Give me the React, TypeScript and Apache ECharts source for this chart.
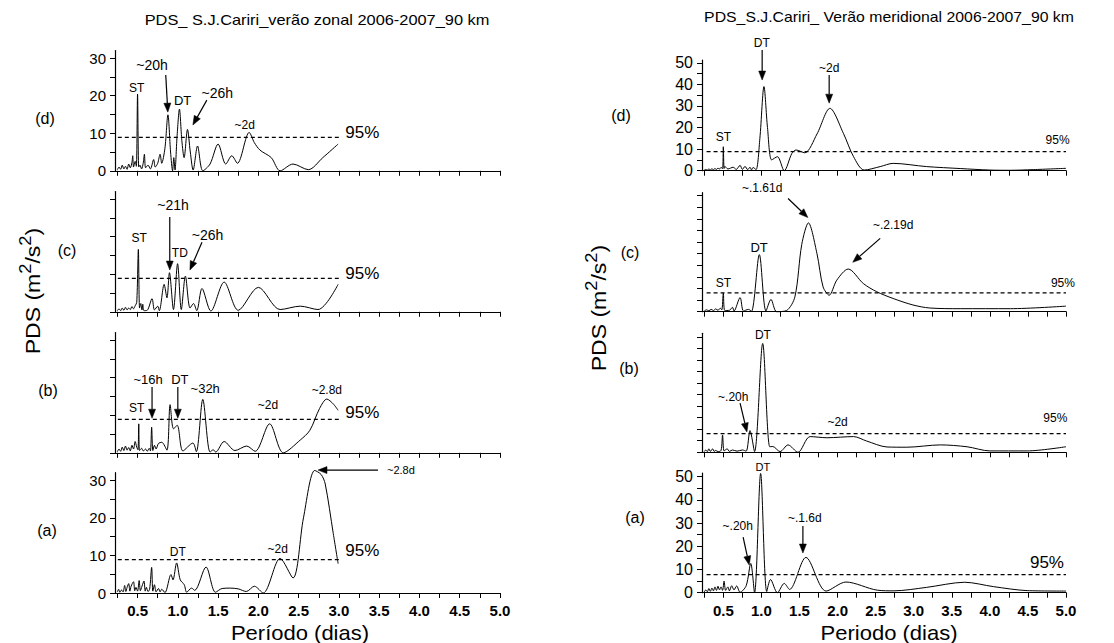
import React, { useEffect, useRef } from "react";
import * as echarts from "echarts";

const FONT = "'Liberation Sans', Arial, Helvetica, sans-serif";

// ---------- DATA (period in days, PDS in m^2/s^2) ----------
const zonalD: number[][] = [
  [0.25, 0.3], [0.27, 1.0], [0.29, 0.4], [0.31, 1.5], [0.33, 0.5], [0.35, 1.2], [0.37, 0.4], [0.39, 1.8],
  [0.41, 0.8], [0.43, 2.2], [0.44, 4.0], [0.45, 1.0], [0.47, 2.5], [0.485, 1.2], [0.5, 20.4], [0.515, 1.0],
  [0.53, 1.5], [0.55, 0.5], [0.57, 2.0], [0.585, 4.4], [0.6, 0.8], [0.63, 1.5], [0.66, 0.5], [0.7, 3.0],
  [0.72, 1.0], [0.75, 2.0], [0.78, 4.4], [0.8, 2.0], [0.84, 6.0], [0.877, 14.9], [0.91, 5.0], [0.935, 0.0],
  [0.95, 3.5], [0.965, 0.2], [0.99, 9.0], [1.02, 16.4], [1.05, 8.0], [1.078, 3.5], [1.12, 11.0], [1.155, 5.0],
  [1.19, 0.2], [1.245, 6.6], [1.31, 0.0], [1.4, 1.8], [1.5, 7.1], [1.595, 1.8], [1.67, 4.0], [1.74, 2.0],
  [1.886, 10.2], [1.95, 7.5], [2.02, 5.5], [2.16, 3.5], [2.27, 0.0], [2.43, 1.8], [2.62, 0.3], [2.8, 3.5],
  [2.99, 7.1],
];
const zonalC: number[][] = [
  [0.25, 0.3], [0.27, 0.8], [0.29, 0.3], [0.31, 1.0], [0.33, 0.4], [0.35, 1.2], [0.37, 0.5], [0.39, 1.0],
  [0.41, 0.6], [0.43, 1.4], [0.45, 0.8], [0.47, 1.6], [0.49, 2.5], [0.51, 16.6], [0.525, 1.0], [0.54, 2.2],
  [0.555, 0.5], [0.565, 2.0], [0.58, 0.3], [0.62, 0.4], [0.68, 3.5], [0.71, 0.5], [0.75, 1.5], [0.77, 0.3],
  [0.83, 7.3], [0.865, 3.7], [0.896, 10.4], [0.946, 0.6], [0.997, 12.8], [1.043, 0.6], [1.094, 9.5],
  [1.152, 1.0], [1.195, 2.2], [1.235, 0.3], [1.3, 6.2], [1.41, 0.2], [1.575, 7.9], [1.75, 0.4], [2.0, 6.5],
  [2.27, 0.6], [2.52, 1.5], [2.74, 0.6], [2.99, 7.3],
];
const zonalB: number[][] = [
  [0.25, 0.3], [0.27, 1.0], [0.29, 0.4], [0.31, 1.5], [0.33, 0.6], [0.35, 1.8], [0.37, 0.7], [0.39, 1.4],
  [0.41, 0.5], [0.43, 2.0], [0.45, 1.0], [0.47, 3.0], [0.49, 1.5], [0.505, 0.8], [0.515, 7.7], [0.525, 0.6],
  [0.55, 1.2], [0.57, 0.5], [0.6, 1.0], [0.62, 0.4], [0.645, 1.2], [0.66, 0.5], [0.675, 6.8], [0.69, 0.6],
  [0.71, 2.0], [0.73, 1.0], [0.76, 2.5], [0.8, 2.8], [0.865, 0.7], [0.904, 12.8], [0.946, 6.4], [0.993, 7.3],
  [1.063, 0.5], [1.187, 2.6], [1.23, 0.3], [1.31, 14.2], [1.4, 0.2], [1.44, 0.8], [1.47, 0.2], [1.575, 3.0],
  [1.71, 0.6], [1.855, 1.8], [1.96, 0.4], [2.14, 7.7], [2.31, 0.0], [2.52, 3.4], [2.64, 6.0], [2.76, 11.8],
  [2.85, 14.3], [2.93, 13.0], [2.99, 11.3],
];
const zonalA: number[][] = [
  [0.25, 0.3], [0.265, 1.0], [0.28, 0.2], [0.3, 0.8], [0.32, 0.3], [0.34, 2.0], [0.355, 0.4], [0.37, 1.5],
  [0.39, 2.5], [0.405, 0.5], [0.42, 1.8], [0.45, 3.0], [0.465, 0.6], [0.48, 1.5], [0.5, 0.5], [0.52, 3.3],
  [0.535, 0.6], [0.555, 1.8], [0.58, 3.2], [0.595, 0.5], [0.61, 1.5], [0.63, 0.4], [0.65, 1.0], [0.675, 6.8],
  [0.69, 0.5], [0.71, 2.2], [0.73, 0.3], [0.76, 1.2], [0.78, 0.3], [0.8, 1.0], [0.84, 0.1], [0.915, 4.9],
  [0.94, 3.5], [0.985, 8.0], [1.03, 3.5], [1.08, 2.2], [1.11, 0.2], [1.17, 1.3], [1.21, 0.7], [1.35, 6.9],
  [1.467, 0.2], [1.55, 1.2], [1.65, 1.3], [1.75, 1.1], [1.85, 0.4], [1.95, 1.8], [2.06, 0.0], [2.27, 9.2],
  [2.43, 4.0], [2.56, 20.0], [2.7, 32.6], [2.78, 31.5], [2.83, 29.0], [2.93, 15.8], [2.99, 7.8],
];

const meridD: number[][] = [
  [0.25, 0.3], [0.27, 0.6], [0.29, 0.3], [0.31, 0.8], [0.33, 0.4], [0.35, 0.9], [0.37, 0.5], [0.39, 1.0],
  [0.41, 0.6], [0.43, 1.2], [0.45, 0.8], [0.47, 1.5], [0.49, 1.0], [0.5, 11.1], [0.51, 1.0], [0.52, 2.0],
  [0.56, 0.8], [0.63, 1.6], [0.67, 0.6], [0.72, 2.5], [0.75, 0.6], [0.785, 2.0], [0.82, 0.5], [0.85, 1.6],
  [0.87, 0.4], [0.89, 1.5], [0.93, 0.5], [0.98, 15.0], [1.034, 39.0], [1.08, 20.0], [1.135, 5.0], [1.21, 6.5],
  [1.3, 0.0], [1.4, 8.0], [1.455, 9.6], [1.57, 8.3], [1.73, 17.0], [1.9, 28.9], [2.077, 17.3], [2.21, 6.5],
  [2.35, 0.3], [2.56, 1.9], [2.73, 3.4], [3.17, 1.9], [3.61, 1.0], [4.0, 0.3], [4.27, 0.2], [4.57, 0.5],
  [5.0, 1.1],
];
const meridC: number[][] = [
  [0.25, 0.3], [0.28, 0.8], [0.31, 0.4], [0.34, 1.0], [0.37, 0.5], [0.4, 1.2], [0.43, 0.6], [0.46, 1.5],
  [0.48, 0.8], [0.5, 8.1], [0.52, 0.5], [0.58, 0.6], [0.62, 1.9], [0.64, 0.3], [0.72, 6.1], [0.765, 0.3],
  [0.83, 1.0], [0.87, 0.2], [0.973, 24.6], [1.06, 0.3], [1.126, 5.3], [1.2, 0.0], [1.33, 0.5], [1.44, 6.4],
  [1.53, 29.0], [1.617, 38.3], [1.73, 25.0], [1.81, 10.7], [1.89, 7.1], [1.99, 13.6], [2.14, 18.4],
  [2.34, 12.1], [2.515, 8.6], [2.73, 5.7], [2.99, 2.9], [3.21, 1.6], [3.61, 1.3], [4.27, 1.3], [5.0, 2.4],
];
const meridB: number[][] = [
  [0.25, 0.3], [0.27, 1.0], [0.29, 0.3], [0.31, 1.5], [0.33, 0.4], [0.36, 1.5], [0.38, 0.4], [0.4, 0.8],
  [0.43, 0.3], [0.47, 0.8], [0.49, 7.5], [0.51, 0.6], [0.55, 1.5], [0.58, 0.4], [0.62, 1.0], [0.68, 0.5],
  [0.75, 1.0], [0.8, 0.5], [0.85, 9.4], [0.91, 0.3], [1.017, 47.1], [1.11, 2.4], [1.15, 2.5], [1.245, 0.3],
  [1.35, 3.2], [1.48, 0.0], [1.64, 6.8], [1.86, 6.3], [2.21, 6.8], [2.38, 4.9], [2.65, 2.3], [2.91, 2.2],
  [3.35, 3.2], [3.7, 2.4], [4.0, 0.6], [4.49, 0.6], [5.0, 2.4],
];
const meridA: number[][] = [
  [0.25, 0.3], [0.27, 1.2], [0.29, 0.4], [0.31, 1.8], [0.33, 0.6], [0.35, 2.0], [0.37, 0.8], [0.39, 2.5],
  [0.41, 1.0], [0.43, 2.8], [0.45, 1.2], [0.47, 2.5], [0.49, 1.0], [0.51, 5.0], [0.53, 1.0], [0.56, 2.5],
  [0.58, 0.8], [0.61, 3.0], [0.64, 1.2], [0.675, 2.9], [0.72, 0.2], [0.8, 3.0], [0.86, 12.6], [0.91, 0.0],
  [0.99, 51.4], [1.07, 0.5], [1.12, 5.7], [1.21, 0.0], [1.3, 4.0], [1.37, 1.4], [1.585, 15.2], [1.85, 0.7],
  [2.11, 4.6], [2.52, 1.1], [2.74, 0.8], [3.17, 2.3], [3.67, 4.5], [4.05, 2.6], [4.49, 0.9], [5.0, 0.7],
];

// 95% significance levels (d, c, b, a)
const level95Zonal = [8.9, 8.9, 8.9, 8.9];
const level95Merid = [8.8, 8.1, 8.1, 7.8];

const xTickValues = [0.25, 0.5, 0.75, 1.0, 1.25, 1.5, 1.75, 2.0, 2.25, 2.5, 2.75, 3.0, 3.25, 3.5, 3.75, 4.0, 4.25, 4.5, 4.75, 5.0];
const xLabelValues = [0.5, 1.0, 1.5, 2.0, 2.5, 3.0, 3.5, 4.0, 4.5, 5.0];
const yTicksZonal = [0, 5, 10, 15, 20, 25, 30];
const yLabelsZonal = [0, 10, 20, 30];
const yTicksMerid = [0, 5, 10, 15, 20, 25, 30, 35, 40, 45, 50];
const yLabelsMerid = [0, 10, 20, 30, 40, 50];

type Ann = { t: string; x: number; y: number; fs: number; left?: boolean; ax?: number[] };

const annZonalD: Ann[] = [
  { t: "ST", x: 0.49, y: 22, fs: 12 },
  { t: "~20h", x: 0.68, y: 28.1, fs: 14, ax: [0.85, 25.5, 0.876, 15.6] },
  { t: "DT", x: 1.06, y: 18.8, fs: 13 },
  { t: "~26h", x: 1.49, y: 20.7, fs: 14, ax: [1.36, 18.8, 1.187, 12.2] },
  { t: "~2d", x: 1.83, y: 12.2, fs: 12 },
  { t: "95%", x: 3.08, y: 10.3, fs: 17, left: true },
];
const annZonalC: Ann[] = [
  { t: "ST", x: 0.52, y: 19.6, fs: 12 },
  { t: "~21h", x: 0.94, y: 28.4, fs: 14, ax: [0.9, 25.2, 0.9, 11.1] },
  { t: "TD", x: 1.025, y: 15.6, fs: 12 },
  { t: "~26h", x: 1.37, y: 20.4, fs: 14, ax: [1.3, 18.5, 1.15, 11.1] },
  { t: "95%", x: 3.08, y: 10.3, fs: 17, left: true },
];
const annZonalB: Ann[] = [
  { t: "ST", x: 0.49, y: 11.9, fs: 12 },
  { t: "~16h", x: 0.63, y: 19.6, fs: 13, ax: [0.68, 17.5, 0.68, 9.2] },
  { t: "DT", x: 1.025, y: 19.6, fs: 13, ax: [1.0, 17.5, 1.0, 9.2] },
  { t: "~32h", x: 1.34, y: 17.2, fs: 13 },
  { t: "~2d", x: 2.12, y: 12.7, fs: 12 },
  { t: "~2.8d", x: 2.85, y: 16.7, fs: 12 },
  { t: "95%", x: 3.08, y: 10.6, fs: 17, left: true },
];
const annZonalA: Ann[] = [
  { t: "DT", x: 1.0, y: 10.9, fs: 12 },
  { t: "~2d", x: 2.24, y: 11.7, fs: 12 },
  { t: "~2.8d", x: 3.77, y: 32.7, fs: 11, ax: [3.485, 32.7, 2.74, 32.7] },
  { t: "95%", x: 3.08, y: 11.4, fs: 17, left: true },
];
const annMeridD: Ann[] = [
  { t: "DT", x: 1.005, y: 59, fs: 12, ax: [1.01, 55.9, 1.01, 42] },
  { t: "~2d", x: 1.89, y: 47.5, fs: 12, ax: [1.89, 44.3, 1.89, 31.3] },
  { t: "ST", x: 0.5, y: 15.6, fs: 12 },
  { t: "95%", x: 4.89, y: 14.2, fs: 12 },
];
const annMeridC: Ann[] = [
  { t: "~.1.61d", x: 1.01, y: 53.5, fs: 12, ax: [1.35, 48.8, 1.61, 40.6] },
  { t: "~.2.19d", x: 2.73, y: 37.2, fs: 12, ax: [2.56, 31.6, 2.2, 21.3] },
  { t: "DT", x: 0.97, y: 27.8, fs: 13 },
  { t: "ST", x: 0.5, y: 12.3, fs: 12 },
  { t: "95%", x: 4.96, y: 12.3, fs: 12 },
];
const annMeridB: Ann[] = [
  { t: "DT", x: 1.02, y: 50.8, fs: 12 },
  { t: "~.20h", x: 0.63, y: 23.9, fs: 12, ax: [0.72, 21.3, 0.81, 8.8] },
  { t: "~2d", x: 2.0, y: 13.1, fs: 12 },
  { t: "95%", x: 4.86, y: 14.8, fs: 12 },
];
const annMeridA: Ann[] = [
  { t: "DT", x: 1.02, y: 54.2, fs: 11 },
  { t: "~.20h", x: 0.69, y: 28.7, fs: 12, ax: [0.76, 24, 0.84, 11.9] },
  { t: "~.1.6d", x: 1.57, y: 32.2, fs: 12, ax: [1.545, 28.7, 1.545, 17.1] },
  { t: "95%", x: 4.75, y: 13.2, fs: 17 },
];

// ---------- LAYOUT ----------
type Panel = {
  data: number[][]; level: number; levelStart: number; levelEnd: number; ann: Ann[];
  left: number; top: number; width: number; height: number; yMax: number;
  yTicks: number[]; yLabels: number[] | null; yFont: number; bottom: boolean;
  tag: string; tagX: number; tagY: number;
};

const Z = { left: 115, width: 385 };
const M = { left: 702, width: 364 };

const PANELS: Panel[] = [
  { data: zonalD, level: level95Zonal[0], levelStart: 0.255, levelEnd: 3.0, ann: annZonalD, ...Z, top: 50.5, height: 120.3, yMax: 32, yTicks: yTicksZonal, yLabels: yLabelsZonal, yFont: 15, bottom: false, tag: "(d)", tagX: 45, tagY: 118 },
  { data: zonalC, level: level95Zonal[1], levelStart: 0.255, levelEnd: 3.0, ann: annZonalC, ...Z, top: 191.5, height: 120.3, yMax: 32, yTicks: yTicksZonal, yLabels: null, yFont: 15, bottom: false, tag: "(c)", tagX: 67, tagY: 250 },
  { data: zonalB, level: level95Zonal[2], levelStart: 0.255, levelEnd: 3.0, ann: annZonalB, ...Z, top: 332.5, height: 120.3, yMax: 32, yTicks: yTicksZonal, yLabels: null, yFont: 15, bottom: false, tag: "(b)", tagX: 48, tagY: 390 },
  { data: zonalA, level: level95Zonal[3], levelStart: 0.255, levelEnd: 3.0, ann: annZonalA, ...Z, top: 472.7, height: 120.3, yMax: 32, yTicks: yTicksZonal, yLabels: yLabelsZonal, yFont: 15, bottom: true, tag: "(a)", tagX: 47, tagY: 530 },
  { data: meridD, level: level95Merid[0], levelStart: 0.28, levelEnd: 5.0, ann: annMeridD, ...M, top: 60, height: 110.7, yMax: 51.3, yTicks: yTicksMerid, yLabels: yLabelsMerid, yFont: 16, bottom: false, tag: "(d)", tagX: 621, tagY: 115 },
  { data: meridC, level: level95Merid[1], levelStart: 0.28, levelEnd: 5.0, ann: annMeridC, ...M, top: 192.7, height: 119, yMax: 51.3, yTicks: yTicksMerid, yLabels: null, yFont: 16, bottom: false, tag: "(c)", tagX: 630, tagY: 252 },
  { data: meridB, level: level95Merid[2], levelStart: 0.28, levelEnd: 5.0, ann: annMeridB, ...M, top: 333.3, height: 119, yMax: 51.5, yTicks: yTicksMerid, yLabels: null, yFont: 16, bottom: false, tag: "(b)", tagX: 629, tagY: 368 },
  { data: meridA, level: level95Merid[3], levelStart: 0.28, levelEnd: 5.0, ann: annMeridA, ...M, top: 473, height: 119.7, yMax: 51.6, yTicks: yTicksMerid, yLabels: yLabelsMerid, yFont: 16, bottom: true, tag: "(a)", tagX: 635, tagY: 517 },
];

const X_MIN = 0.22;
const X_MAX = 5.0;

function txt(text: string, x: number, y: number, fontSize: number, extra: any = {}, el: any = {}) {
  return {
    type: "text",
    x,
    y,
    silent: true,
    ...el,
    style: {
      text,
      fontSize,
      fontFamily: FONT,
      fill: "#000",
      align: "center",
      verticalAlign: "middle",
      textAlign: "center",
      textVerticalAlign: "middle",
      ...extra,
    },
  };
}

export default function App() {
  const ref = useRef<HTMLDivElement>(null);

  useEffect(() => {
    if (!ref.current) return;
    const chart = echarts.init(ref.current, null, { renderer: "svg" });

    const grid: any[] = [];
    const xAxis: any[] = [];
    const yAxis: any[] = [];
    const series: any[] = [];

    PANELS.forEach((p, i) => {
      grid.push({ left: p.left, top: p.top, width: p.width, height: p.height, containLabel: false });
      xAxis.push({
        type: "value",
        gridIndex: i,
        min: X_MIN,
        max: X_MAX,
        axisLine: { show: true, onZero: false, lineStyle: { color: "#000", width: 1.2 } },
        axisTick: { show: true, customValues: xTickValues, length: 5, inside: false, lineStyle: { color: "#000", width: 1 } },
        axisLabel: {
          show: p.bottom,
          customValues: xLabelValues,
          formatter: (v: number) => v.toFixed(1),
          fontSize: 15,
          fontWeight: "bold",
          fontFamily: FONT,
          color: "#000",
          margin: 10,
        },
        splitLine: { show: false },
      });
      yAxis.push({
        type: "value",
        gridIndex: i,
        min: 0,
        max: p.yMax,
        axisLine: { show: true, onZero: false, lineStyle: { color: "#000", width: 1.2 } },
        axisTick: { show: true, customValues: p.yTicks, length: 5, inside: false, lineStyle: { color: "#000", width: 1 } },
        axisLabel: {
          show: !!p.yLabels,
          customValues: p.yLabels || [],
          fontSize: p.yFont,
          fontFamily: FONT,
          color: "#000",
          margin: 9,
        },
        splitLine: { show: false },
      });
      series.push({
        type: "line",
        xAxisIndex: i,
        yAxisIndex: i,
        data: p.data,
        showSymbol: false,
        smooth: 0.3,
        clip: false,
        silent: true,
        lineStyle: { color: "#000", width: 1 },
      });
      series.push({
        type: "line",
        xAxisIndex: i,
        yAxisIndex: i,
        data: [[p.levelStart, p.level], [p.levelEnd, p.level]],
        showSymbol: false,
        silent: true,
        lineStyle: { color: "#000", width: 1.3, type: [4, 3] },
      });
    });

    chart.setOption({ animation: false, grid, xAxis, yAxis, series });

    const graphics: any[] = [];
    graphics.push(txt("PDS_ S.J.Cariri_verão zonal 2006-2007_90 km", 317, 20, 14, {}, { scaleX: 1.17 }));
    graphics.push(txt("PDS_S.J.Cariri_ Verão meridional 2006-2007_90 km", 889, 17, 14, {}, { scaleX: 1.13 }));
    graphics.push(txt("Período (dias)", 300, 633, 20, {}, { scaleX: 1.1 }));
    graphics.push(txt("Periodo (dias)", 889, 633, 20, {}, { scaleX: 1.1 }));

    const yTitle = (x: number, y: number) => ({
      type: "text",
      x,
      y,
      rotation: Math.PI / 2,
      scaleX: 1.15,
      silent: true,
      style: {
        text: "{a|PDS (m}{s|2}{a|/s}{s|2}{a|)}",
        fontFamily: FONT,
        fill: "#000",
        align: "center",
        verticalAlign: "middle",
        rich: {
          a: { fontSize: 20, fontFamily: FONT, fill: "#000", color: "#000", lineHeight: 26, verticalAlign: "bottom" },
          s: { fontSize: 16, fontFamily: FONT, fill: "#000", color: "#000", lineHeight: 26, verticalAlign: "top", padding: [0, 0, 8, 0] },
        },
      },
    });
    graphics.push(yTitle(30, 291));
    graphics.push(yTitle(596, 308));

    PANELS.forEach((p, i) => {
      graphics.push(txt(p.tag, p.tagX, p.tagY, 16));
      p.ann.forEach((a) => {
        const [px, py] = chart.convertToPixel({ gridIndex: i } as any, [a.x, a.y]) as number[];
        graphics.push(
          txt(a.t, px, py, a.fs, a.left ? { align: "left", textAlign: "left" } : {})
        );
        if (a.ax) {
          const [x1, y1] = chart.convertToPixel({ gridIndex: i } as any, [a.ax[0], a.ax[1]]) as number[];
          const [x2, y2] = chart.convertToPixel({ gridIndex: i } as any, [a.ax[2], a.ax[3]]) as number[];
          const dx = x2 - x1;
          const dy = y2 - y1;
          const len = Math.sqrt(dx * dx + dy * dy) || 1;
          const ux = dx / len;
          const uy = dy / len;
          const hl = 9;
          const hw = 3.5;
          const bx = x2 - ux * hl;
          const by = y2 - uy * hl;
          graphics.push({
            type: "line",
            silent: true,
            shape: { x1, y1, x2: bx, y2: by },
            style: { stroke: "#000", lineWidth: 1.2 },
          });
          graphics.push({
            type: "polygon",
            silent: true,
            shape: {
              points: [
                [x2, y2],
                [bx - uy * hw, by + ux * hw],
                [bx + uy * hw, by - ux * hw],
              ],
            },
            style: { fill: "#000", stroke: "#000", lineWidth: 0.5 },
          });
        }
      });
    });

    chart.setOption({ graphic: { elements: graphics } });

    return () => {
      chart.dispose();
    };
  }, []);

  return (
    <div
      ref={ref}
      style={{ position: "fixed", left: 0, top: 0, width: 1114, height: 643, background: "#fff" }}
    />
  );
}
